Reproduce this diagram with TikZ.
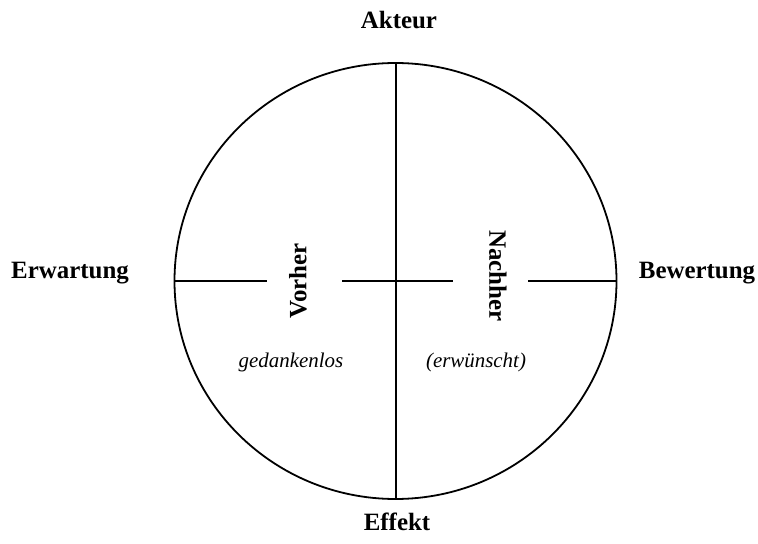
\documentclass[tikz,border=0pt]{standalone}
\usepackage{fontspec}
\setmainfont{Liberation Serif}
\begin{document}
\begin{tikzpicture}[x=1bp,y=-1bp,
  lbl/.style={font=\fontsize{25}{30}\selectfont\bfseries, inner sep=0pt},
  sub/.style={font=\fontsize{21}{25}\selectfont\itshape, inner sep=0pt},
  ln/.style={line width=1.8bp}]
\useasboundingbox (0,0) rectangle (758,544);
\coordinate (c) at (395.5,281);
\draw[ln] (c) ellipse [x radius=221, y radius=218];
\coordinate (top) at (396,63);
\coordinate (bot) at (396,499);
\draw[ln] (top) -- (bot);
\coordinate (l0) at (174.5,281);
\coordinate (l1) at (267,281);
\coordinate (m0) at (342,281);
\coordinate (m1) at (453,281);
\coordinate (r0) at (528,281);
\coordinate (r1) at (616.5,281);
\draw[ln] (l0) -- (l1);
\draw[ln] (m0) -- (m1);
\draw[ln] (r0) -- (r1);
\node[lbl] (akteur) at (399,20) {Akteur};
\node[lbl] (effekt) at (397,522) {Effekt};
\node[lbl] (erw) at (70,273) {Erwartung};
\node[lbl] (bew) at (697,273) {Bewertung};
\node[lbl, rotate=90] (vorher) at (298,281) {Vorher};
\node[lbl, rotate=-90] (nachher) at (498,276) {Nachher};
\node[sub] (ged) at (291,362) {gedankenlos};
\node[sub] (erwu) at (476,362) {(erwünscht)};
\end{tikzpicture}
\end{document}
